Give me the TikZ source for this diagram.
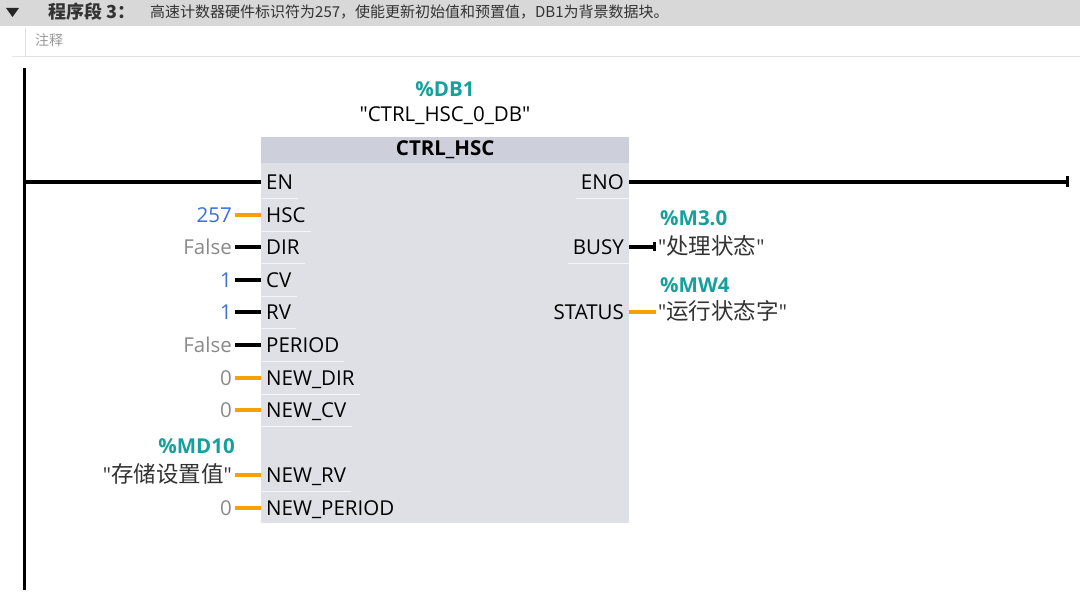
\documentclass[tikz,border=0pt]{standalone}
\usepackage{fontspec}
\newfontfamily\uifont{Open Sans}
\newfontfamily\cjk{Noto Sans CJK SC}
\newcommand\cjkvar[1]{{\fontsize{22.5}{26}\selectfont\cjk #1}}
\usetikzlibrary{positioning,arrows.meta}

\definecolor{wireorange}{HTML}{F5A200}
\definecolor{addrteal}{HTML}{16A09C}
\definecolor{valblue}{HTML}{3A6FD6}
\definecolor{valgray}{HTML}{8A8A8A}
\definecolor{blockgray}{HTML}{DFE0E6}
\definecolor{headgray}{HTML}{CDD0DA}
\definecolor{bargray}{HTML}{D8D8D8}
\definecolor{textgray}{HTML}{333333}

\begin{document}
\begin{tikzpicture}[x=1pt, y=-1pt,
    txt/.style={inner sep=0pt, text height=14.5pt, text depth=0pt,
      font=\fontsize{20.5}{24}\selectfont\uifont},
    portin/.style={txt, anchor=west, inner xsep=5pt},
    portout/.style={txt, anchor=east, inner xsep=5pt},
    val/.style={txt, anchor=east, inner xsep=3pt},
    addr/.style={txt, text=addrteal, font=\fontsize{20.5}{24}\selectfont\uifont\bfseries},
    var/.style={txt, text=textgray, anchor=west, inner xsep=2pt},
    wire/.style={line width=3.5pt},
    sepline/.style={white!70!blockgray, line width=1.5pt}]
  \useasboundingbox (0,0) rectangle (1080,593);

  % network title bar
  \fill[bargray] (0,0) rectangle (1080,26);
  \fill[black!85] (6,8) -- (19,8) -- (12.5,17) -- cycle;
  \node[anchor=west, inner sep=0pt, font=\fontsize{18}{20}\selectfont\cjk\bfseries,
    text=black!80] (nettitle) at (48,12) {程序段 3：};
  \node[anchor=west, inner sep=0pt, font=\fontsize{15}{18}\selectfont\cjk,
    text=textgray] (netdesc) at (150,12)
    {高速计数器硬件标识符为257，使能更新初始值和预置值，DB1为背景数据块。};
  \draw[black!12, line width=1pt] (25,28) -- (25,57) -- (1080,57);
  \draw[black!10, line width=1pt] (12,57) -- (25,57);
  \node[anchor=west, inner sep=0pt, font=\fontsize{14}{16}\selectfont\cjk,
    text=black!40] (comment) at (35,40) {注释};

  % power rail
  \coordinate (railtop) at (24,68);
  \coordinate (railbot) at (24,590);
  \draw[line width=3pt] (railtop) -- (railbot);

  % block
  \node[fill=blockgray, minimum width=368, minimum height=386, anchor=north west,
    inner sep=0pt] (blk) at (261,137) {};
  \node[fill=headgray, minimum width=368, minimum height=26, anchor=north west,
    inner sep=0pt, font=\fontsize{20.5}{24}\selectfont\uifont\bfseries] (title)
    at (blk.north west) {CTRL\_HSC};
  \node[txt] (inst) at (445,114) {"CTRL\_HSC\_0\_DB"};
  \node[addr] (db) at (445,89) {\%DB1};

  % EN / ENO
  \node[portin] (en) at (261,182) {EN};
  \draw[wire] (en.west -| railtop) -- (en.west);
  \node[portout] (eno) at (629,182) {ENO};
  \coordinate (enoend) at (1069,182);
  \draw[wire, -{Bar[width=11pt]}] (eno.east) -- (enoend);

  % inputs with constants
  \foreach \id/\y/\nm/\v/\vc/\wc in {
      hsc/215/HSC/257/valblue/wireorange,
      dir/247/DIR/False/valgray/black,
      cv/280/CV/1/valblue/black,
      rv/312/RV/1/valblue/black,
      per/345/PERIOD/False/valgray/black,
      ndir/378/NEW\_DIR/0/valgray/wireorange,
      ncv/410/NEW\_CV/0/valgray/wireorange,
      nper/508/NEW\_PERIOD/0/valgray/wireorange} {
    \node[portin] (\id) at (261,\y) {\nm};
    \node[val, text=\vc] (\id v) at (235,\y) {\v};
    \draw[wire, \wc] (\id v.east) -- (\id.west);
  }

  % NEW_RV with tag
  \node[portin] (nrv) at (261,475) {NEW\_RV};
  \node[val, text=textgray] (nrvv) at (235,475) {"\cjkvar{存储设置值}"};
  \node[addr, above=14pt of nrvv.north east, anchor=south east] (nrva) {\%MD10};
  \draw[wire, wireorange] (nrvv.east) -- (nrv.west);

  % outputs
  \node[portout] (busy) at (629,247) {BUSY};
  \node[var] (busyv) at (656,247) {"\cjkvar{处理状态}"};
  \node[addr, anchor=west] (busya) at (660,218) {\%M3.0};
  \draw[wire, -{Bar[width=9pt]}] (busy.east) -- (busyv.west);
  \node[portout] (status) at (629,312) {STATUS};
  \node[var] (statusv) at (656,312) {"\cjkvar{运行状态字}"};
  \node[addr, anchor=west] (statusa) at (660,285) {\%MW4};
  \draw[wire, wireorange] (status.east) -- (statusv.west);

  % faint separators under the ports
  \foreach \p in {en,hsc,dir,cv,rv,per,ndir,ncv,nrv}
    \draw[sepline] ([yshift=-9pt]\p.south west) -- ([yshift=-9pt]\p.south east);
  \foreach \p in {eno,busy}
    \draw[sepline] ([yshift=-9pt]\p.south west) -- ([yshift=-9pt]\p.south east);
\end{tikzpicture}
\end{document}
